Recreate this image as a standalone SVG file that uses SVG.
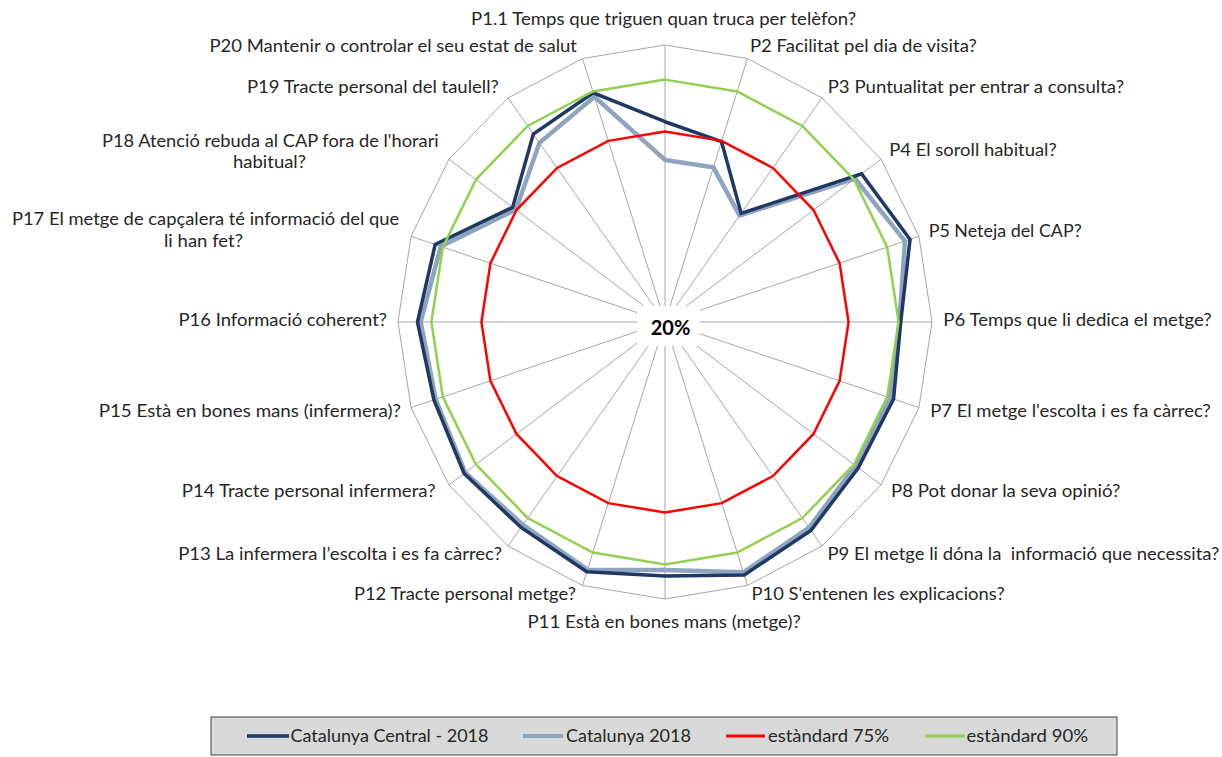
<svg xmlns="http://www.w3.org/2000/svg" width="1222" height="757" viewBox="0 0 1222 757">
<style>
.lbl{font-family:Lato,"Open Sans","Liberation Sans",sans-serif;font-size:17px;fill:#262626;}
.grid{fill:none;stroke:#a6a6a6;stroke-width:1;}
.ser{fill:none;stroke-linejoin:miter;}
.dark{stroke:#1f3864;stroke-width:3.5;}
.light{stroke:#8fa4be;stroke-width:4.5;}
.red{stroke:#ff0000;stroke-width:2.5;}
.green{stroke:#92d050;stroke-width:2.5;}
</style>
<rect x="0" y="0" width="1222" height="757" fill="#ffffff"/>
<g id="grid">
<polygon class="grid" points="665,45 747.51,58.56 821.94,97.9 881.01,159.18 918.93,236.4 932,322 918.93,407.6 881.01,484.82 821.94,546.1 747.51,585.44 665,599 582.49,585.44 508.06,546.1 448.99,484.82 411.07,407.6 398,322 411.07,236.4 448.99,159.18 508.06,97.9 582.49,58.56"/>
<path class="grid" d="M665,322L665,45M665,322L747.51,58.56M665,322L821.94,97.9M665,322L881.01,159.18M665,322L918.93,236.4M665,322L932,322M665,322L918.93,407.6M665,322L881.01,484.82M665,322L821.94,546.1M665,322L747.51,585.44M665,322L665,599M665,322L582.49,585.44M665,322L508.06,546.1M665,322L448.99,484.82M665,322L411.07,407.6M665,322L398,322M665,322L411.07,236.4M665,322L448.99,159.18M665,322L508.06,97.9M665,322L582.49,58.56"/>
<rect x="637" y="306" width="63" height="40" fill="#ffffff"/>
<text x="670.5" y="335" text-anchor="middle" style="font-family:Lato,'Open Sans','Liberation Sans',sans-serif;font-size:20px;font-weight:bold;fill:#000000">20%</text>
</g>
<g id="series">
<polygon id="s-light" class="ser light" points="665,159.95 713.43,167.36 739.55,215.55 855.09,178.72 904.97,241.11 899.43,322 889.98,397.84 855.52,465.6 809.07,527.72 743.38,572.27 665,569.92 587.44,569.64 522.97,524.81 465.19,472.61 435.7,399.3 420.69,322 440.78,246.42 515.96,209.66 539.45,142.72 594.45,96.75"/>
<polygon id="s-dark" class="ser dark" points="665,121.73 721.52,141.58 741.12,213.31 861.57,173.84 910.05,239.4 900.76,322 893.54,399.04 858.33,467.73 810.95,530.41 744.21,574.91 665,576.01 586.78,571.75 521.09,527.5 464.11,473.42 433.92,399.89 417.49,322 435.19,244.53 512.71,207.21 533.33,133.98 593.22,92.81"/>
<polygon id="s-red" class="ser red" points="665,131.56 721.72,140.88 772.9,167.93 813.51,210.06 839.58,263.15 848.56,322 839.58,380.85 813.51,433.94 772.9,476.07 721.72,503.12 665,512.44 608.28,503.12 557.1,476.07 516.49,433.94 490.42,380.85 481.44,322 490.42,263.15 516.49,210.06 557.1,167.93 608.28,140.88"/>
<polygon id="s-green" class="ser green" points="665,79.62 737.2,91.48 802.32,125.91 854.01,179.53 887.19,247.1 898.63,322 887.19,396.9 854.01,464.47 802.32,518.09 737.2,552.52 665,564.38 592.8,552.52 527.68,518.09 475.99,464.47 442.81,396.9 431.37,322 442.81,247.1 475.99,179.53 527.68,125.91 592.8,91.48"/>
</g>
<g id="labels">
<text class="lbl" x="471" y="25" textLength="385" lengthAdjust="spacingAndGlyphs">P1.1 Temps que triguen quan truca per telèfon?</text>
<text class="lbl" x="750" y="51.5" textLength="226.7" lengthAdjust="spacingAndGlyphs">P2 Facilitat pel dia de visita?</text>
<text class="lbl" x="827.7" y="93" textLength="296.3" lengthAdjust="spacingAndGlyphs">P3 Puntualitat per entrar a consulta?</text>
<text class="lbl" x="889.3" y="155.6" textLength="167.4" lengthAdjust="spacingAndGlyphs">P4 El soroll habitual?</text>
<text class="lbl" x="928.7" y="236.6" textLength="153" lengthAdjust="spacingAndGlyphs">P5 Neteja del CAP?</text>
<text class="lbl" x="943.3" y="326" textLength="268.4" lengthAdjust="spacingAndGlyphs">P6 Temps que li dedica el metge?</text>
<text class="lbl" x="930.2" y="416.6" textLength="280.6" lengthAdjust="spacingAndGlyphs">P7 El metge l'escolta i es fa càrrec?</text>
<text class="lbl" x="891.1" y="496.6" textLength="229.3" lengthAdjust="spacingAndGlyphs">P8 Pot donar la seva opinió?</text>
<text class="lbl" x="827.5" y="560" textLength="391.9" lengthAdjust="spacingAndGlyphs" style="white-space:pre">P9 El metge li dóna la  informació que necessita?</text>
<text class="lbl" x="751.6" y="600" textLength="253.1" lengthAdjust="spacingAndGlyphs">P10 S'entenen les explicacions?</text>
<text class="lbl" x="527.4" y="628.3" textLength="273.4" lengthAdjust="spacingAndGlyphs">P11 Està en bones mans (metge)?</text>
<text class="lbl" x="353.9" y="600" textLength="222" lengthAdjust="spacingAndGlyphs">P12 Tracte personal metge?</text>
<text class="lbl" x="178.2" y="560" textLength="323.9" lengthAdjust="spacingAndGlyphs">P13 La infermera l’escolta i es fa càrrec?</text>
<text class="lbl" x="181.8" y="496.6" textLength="253.8" lengthAdjust="spacingAndGlyphs">P14 Tracte personal infermera?</text>
<text class="lbl" x="98.7" y="416.6" textLength="302.2" lengthAdjust="spacingAndGlyphs">P15 Està en bones mans (infermera)?</text>
<text class="lbl" x="178.5" y="326" textLength="208.5" lengthAdjust="spacingAndGlyphs">P16 Informació coherent?</text>
<text class="lbl" x="11.9" y="225" textLength="387.3" lengthAdjust="spacingAndGlyphs">P17 El metge de capçalera té informació del que</text>
<text class="lbl" x="164" y="246.7" textLength="79" lengthAdjust="spacingAndGlyphs">li han fet?</text>
<text class="lbl" x="102" y="146.6" textLength="336.7" lengthAdjust="spacingAndGlyphs">P18 Atenció rebuda al CAP fora de l'horari</text>
<text class="lbl" x="233" y="168.3" textLength="73" lengthAdjust="spacingAndGlyphs">habitual?</text>
<text class="lbl" x="247" y="93.3" textLength="251.8" lengthAdjust="spacingAndGlyphs">P19 Tracte personal del taulell?</text>
<text class="lbl" x="209.5" y="51.6" textLength="367.5" lengthAdjust="spacingAndGlyphs">P20 Mantenir o controlar el seu estat de salut</text>
</g>
<g id="legend">
<rect x="211" y="717" width="906" height="38" fill="#d9d9d9" stroke="#404040" stroke-width="1"/>
<line x1="247" y1="736" x2="289" y2="736" class="dark"/>
<text class="lbl" x="290.5" y="742" textLength="198" lengthAdjust="spacingAndGlyphs">Catalunya Central - 2018</text>
<line x1="523" y1="736" x2="563" y2="736" class="light" style="stroke-width:4"/>
<text class="lbl" x="566" y="742" textLength="125" lengthAdjust="spacingAndGlyphs">Catalunya 2018</text>
<line x1="726" y1="736" x2="765" y2="736" class="red" style="stroke-width:3"/>
<text class="lbl" x="768" y="742" textLength="121" lengthAdjust="spacingAndGlyphs">estàndard 75%</text>
<line x1="925" y1="736" x2="965" y2="736" class="green" style="stroke-width:3"/>
<text class="lbl" x="966.5" y="742" textLength="121.5" lengthAdjust="spacingAndGlyphs">estàndard 90%</text>
</g>
</svg>
